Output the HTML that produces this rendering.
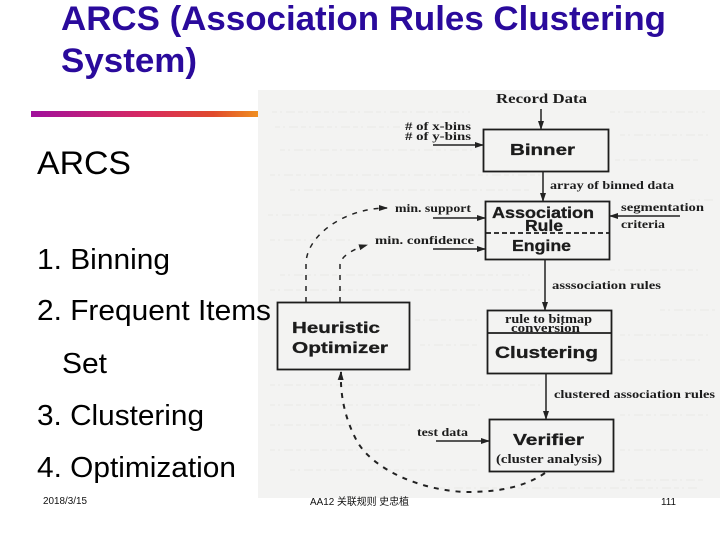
<!DOCTYPE html>
<html><head><meta charset="utf-8">
<style>
html,body{margin:0;padding:0;background:#fff}
body{width:720px;height:540px;overflow:hidden;position:relative}
svg{position:absolute;left:0;top:0}
</style></head>
<body>
<svg width="720" height="540" viewBox="0 0 720 540" xmlns="http://www.w3.org/2000/svg" font-family="'Liberation Sans','Noto Sans CJK SC',sans-serif">
<defs>
<linearGradient id="g" x1="0" x2="1" y1="0" y2="0">
<stop offset="0" stop-color="#a0109c"/><stop offset="0.5" stop-color="#d82a60"/><stop offset="0.8" stop-color="#e04a2c"/><stop offset="1" stop-color="#f09020"/>
</linearGradient>
<marker id="a" markerWidth="10" markerHeight="8" refX="8" refY="4" orient="auto" markerUnits="userSpaceOnUse"><path d="M0 1 L9 4 L0 7 Z" fill="#222"/></marker>
</defs>
<rect x="31" y="111" width="228" height="6" fill="url(#g)"/>
<g font-size="34" font-weight="bold" fill="#2a0a9c" lengthAdjust="spacingAndGlyphs">
<text x="61" y="30" textLength="605" lengthAdjust="spacingAndGlyphs">ARCS (Association Rules Clustering</text>
<text x="61" y="72" textLength="136" lengthAdjust="spacingAndGlyphs">System)</text>
</g>

<rect x="258" y="90" width="462" height="408" fill="#f3f3f2"/>
<g stroke="#e9e9e7" stroke-width="1" stroke-dasharray="5 3 2 4 9 3">
<path d="M272 112H470M610 112H705M275 127H400M620 135H710M280 150H475M615 160H700M270 175H540M290 190H530M690 200H715M268 215H360M270 240H350M610 270H700M280 275H530M270 290H540M660 310H715M415 320H480M620 335H710M420 345H480M620 360H700M270 385H540M270 405H480M620 415H710M270 425H410M270 450H410M620 450H710M290 470H480M620 480H705M440 488H700"/>
</g>

<g fill="none" stroke="#1c1c1c" stroke-width="1.8">
<rect x="483.500" y="129.500" width="125" height="42"/>
<rect x="485.500" y="201.500" width="124" height="58"/>
<rect x="277.500" y="302.500" width="132" height="67"/>
<rect x="487.500" y="310.500" width="124" height="63"/>
<rect x="489.500" y="419.500" width="124" height="52"/>
<path d="M487 333H611"/>
<path d="M486 233H609" stroke-dasharray="5 3"/>
</g>
<g fill="none" stroke="#222" stroke-width="1.5">
<path d="M541 109V129" marker-end="url(#a)"/>
<path d="M433 145H483" marker-end="url(#a)"/>
<path d="M543 171V201" marker-end="url(#a)"/>
<path d="M433 218H485" marker-end="url(#a)"/>
<path d="M433 249H485" marker-end="url(#a)"/>
<path d="M680 216H610" marker-end="url(#a)"/>
<path d="M545 259V310" marker-end="url(#a)"/>
<path d="M546 373V419" marker-end="url(#a)"/>
<path d="M436 441H489" marker-end="url(#a)"/>
</g>
<g fill="none" stroke="#222" stroke-width="1.5" stroke-dasharray="5 6">
<path d="M306 302V263C307 235 345 208 387 208" marker-end="url(#a)"/>
<path d="M340 302V265C340 258 350 250 367 245" marker-end="url(#a)"/>
<path d="M545 473C520 490 490 492 465 492C420 490 375 470 358 443C345 420 340 395 341 372" stroke-width="2" marker-end="url(#a)"/>
</g>

<g fill="#1c1c1c" font-family="'Liberation Serif',serif" font-weight="bold" font-size="12">
<text x="496" y="103" font-size="14" textLength="91" lengthAdjust="spacingAndGlyphs">Record Data</text>
<text x="405" y="130" textLength="66" lengthAdjust="spacingAndGlyphs"># of x-bins</text>
<text x="405" y="140" textLength="66" lengthAdjust="spacingAndGlyphs"># of y-bins</text>
<text x="550" y="189" textLength="124" lengthAdjust="spacingAndGlyphs">array of binned data</text>
<text x="395" y="212" textLength="76" lengthAdjust="spacingAndGlyphs">min. support</text>
<text x="375" y="244" textLength="99" lengthAdjust="spacingAndGlyphs">min. confidence</text>
<text x="621" y="211" textLength="83" lengthAdjust="spacingAndGlyphs">segmentation</text>
<text x="621" y="228" textLength="44" lengthAdjust="spacingAndGlyphs">criteria</text>
<text x="552" y="289" textLength="109" lengthAdjust="spacingAndGlyphs">asssociation rules</text>
<text x="505" y="323" font-size="13" textLength="87" lengthAdjust="spacingAndGlyphs">rule to bitmap</text>
<text x="511" y="332" font-size="13" textLength="69" lengthAdjust="spacingAndGlyphs">conversion</text>
<text x="554" y="398" textLength="161" lengthAdjust="spacingAndGlyphs">clustered association rules</text>
<text x="417" y="436" textLength="51" lengthAdjust="spacingAndGlyphs">test data</text>
<text x="496" y="463" font-size="13" textLength="106" lengthAdjust="spacingAndGlyphs">(cluster analysis)</text>
</g>
<g fill="#1c1c1c" font-weight="bold" font-size="15.500" stroke="#1c1c1c" stroke-width=".3">
<text x="510" y="155" textLength="65" lengthAdjust="spacingAndGlyphs">Binner</text>
<text x="492" y="218" textLength="102" lengthAdjust="spacingAndGlyphs">Association</text>
<text x="525" y="231" textLength="38" lengthAdjust="spacingAndGlyphs">Rule</text>
<text x="512" y="251" textLength="59" lengthAdjust="spacingAndGlyphs">Engine</text>
<text x="292" y="333" textLength="88" lengthAdjust="spacingAndGlyphs">Heuristic</text>
<text x="292" y="353" textLength="96" lengthAdjust="spacingAndGlyphs">Optimizer</text>
<text x="495" y="358" font-size="16.500" textLength="103" lengthAdjust="spacingAndGlyphs">Clustering</text>
<text x="513" y="445" font-size="16" textLength="71" lengthAdjust="spacingAndGlyphs">Verifier</text>
</g>

<text x="37" y="174" font-size="32" fill="#000" textLength="94" lengthAdjust="spacingAndGlyphs">ARCS</text>
<g fill="#000" font-size="29">
<text x="37" y="269" textLength="133" lengthAdjust="spacingAndGlyphs">1. Binning</text>
<text x="37" y="320" textLength="234" lengthAdjust="spacingAndGlyphs">2. Frequent Items</text>
<text x="62" y="373" textLength="45" lengthAdjust="spacingAndGlyphs">Set</text>
<text x="37" y="425" textLength="167" lengthAdjust="spacingAndGlyphs">3. Clustering</text>
<text x="37" y="477" textLength="199" lengthAdjust="spacingAndGlyphs">4. Optimization</text>
</g>
<g fill="#111" font-size="10">
<text x="43" y="504" textLength="44" lengthAdjust="spacingAndGlyphs">2018/3/15</text>
<text x="310" y="505" textLength="99" lengthAdjust="spacingAndGlyphs">AA12 关联规则 史忠植</text>
<text x="661" y="505" textLength="15" lengthAdjust="spacingAndGlyphs">111</text>
</g>
</svg>
</body></html>
